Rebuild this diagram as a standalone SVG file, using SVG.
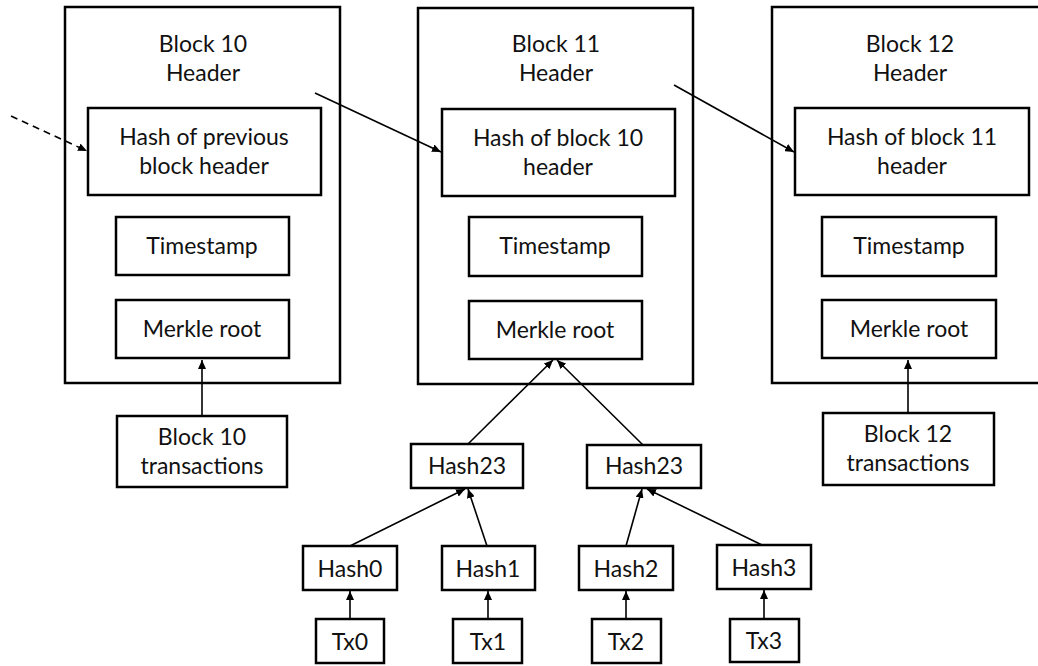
<svg xmlns="http://www.w3.org/2000/svg" width="1038" height="666" viewBox="0 0 1038 666">
<style>
.box{fill:#fff;stroke:#000;stroke-width:2.5}
.t{font-family:Lato,"Open Sans","Liberation Sans",sans-serif;font-size:23px;fill:#111;text-anchor:middle}
.c{fill:none;stroke:#000;stroke-width:1.6}
.d{fill:none;stroke:#000;stroke-width:1.6;stroke-dasharray:7 5}
</style>
<defs>
<marker id="ah" markerUnits="userSpaceOnUse" markerWidth="10" markerHeight="8" refX="9" refY="4" orient="auto">
<path d="M0,0 L9,4 L0,8 z" fill="#000"/>
</marker>
</defs>
<rect width="1038" height="666" fill="#fff"/>
<g id="block10">
<rect class="box" x="65" y="7" width="275" height="376"/>
<text class="t" x="203" y="52">Block 10</text>
<text class="t" x="203" y="81">Header</text>
<g id="b10-hash"><rect class="box" x="88" y="108" width="233" height="87"/>
<text class="t" x="204" y="145">Hash of previous</text>
<text class="t" x="204" y="174">block header</text></g>
<g id="b10-ts"><rect class="box" x="116" y="217" width="173" height="58"/>
<text class="t" x="202" y="254">Timestamp</text></g>
<g id="b10-mr"><rect class="box" x="116" y="300" width="173" height="58"/>
<text class="t" x="202" y="337">Merkle root</text></g>
</g>
<g id="block11">
<rect class="box" x="418" y="8" width="275" height="376"/>
<text class="t" x="556" y="52">Block 11</text>
<text class="t" x="556" y="81">Header</text>
<g id="b11-hash"><rect class="box" x="442" y="109" width="233" height="87"/>
<text class="t" x="558" y="146">Hash of block 10</text>
<text class="t" x="558" y="175">header</text></g>
<g id="b11-ts"><rect class="box" x="469" y="217" width="173" height="59"/>
<text class="t" x="555" y="254">Timestamp</text></g>
<g id="b11-mr"><rect class="box" x="469" y="301" width="173" height="58"/>
<text class="t" x="555" y="338">Merkle root</text></g>
</g>
<g id="block12">
<rect class="box" x="772" y="7" width="276" height="376"/>
<text class="t" x="910" y="52">Block 12</text>
<text class="t" x="910" y="81">Header</text>
<g id="b12-hash"><rect class="box" x="795" y="108" width="234" height="87"/>
<text class="t" x="912" y="145">Hash of block 11</text>
<text class="t" x="912" y="174">header</text></g>
<g id="b12-ts"><rect class="box" x="822" y="217" width="174" height="59"/>
<text class="t" x="909" y="254">Timestamp</text></g>
<g id="b12-mr"><rect class="box" x="822" y="300" width="174" height="58"/>
<text class="t" x="909" y="337">Merkle root</text></g>
</g>
<g id="b10-tx"><rect class="box" x="117" y="416" width="170" height="71"/>
<text class="t" x="202" y="445">Block 10</text>
<text class="t" x="202" y="474">transactions</text></g>
<g id="b12-tx"><rect class="box" x="823" y="413" width="171" height="72"/>
<text class="t" x="908" y="442">Block 12</text>
<text class="t" x="908" y="471">transactions</text></g>
<g id="hash23a"><rect class="box" x="411" y="444" width="112" height="44"/><text class="t" x="467" y="474">Hash23</text></g>
<g id="hash23b"><rect class="box" x="587" y="445" width="114" height="43"/><text class="t" x="644" y="474">Hash23</text></g>
<g id="hash0"><rect class="box" x="303" y="546" width="94" height="44"/><text class="t" x="350" y="577">Hash0</text></g>
<g id="hash1"><rect class="box" x="442" y="546" width="93" height="44"/><text class="t" x="488" y="577">Hash1</text></g>
<g id="hash2"><rect class="box" x="579" y="546" width="94" height="44"/><text class="t" x="626" y="577">Hash2</text></g>
<g id="hash3"><rect class="box" x="717" y="545" width="94" height="44"/><text class="t" x="764" y="576">Hash3</text></g>
<g id="tx0"><rect class="box" x="316" y="619" width="68" height="44"/><text class="t" x="350" y="650">Tx0</text></g>
<g id="tx1"><rect class="box" x="453" y="619" width="69" height="44"/><text class="t" x="488" y="650">Tx1</text></g>
<g id="tx2"><rect class="box" x="592" y="619" width="69" height="44"/><text class="t" x="626" y="650">Tx2</text></g>
<g id="tx3"><rect class="box" x="730" y="619" width="69" height="43"/><text class="t" x="764" y="649">Tx3</text></g>
<g id="connectors">
<line class="d" x1="11" y1="116" x2="87" y2="151" marker-end="url(#ah)"/>
<line class="c" x1="315" y1="93" x2="441" y2="152" marker-end="url(#ah)"/>
<line class="c" x1="674" y1="85" x2="794" y2="152" marker-end="url(#ah)"/>
<line class="c" x1="202" y1="416" x2="202" y2="360" marker-end="url(#ah)"/>
<line class="c" x1="908" y1="413" x2="908" y2="360" marker-end="url(#ah)"/>
<line class="c" x1="468" y1="444" x2="553" y2="360" marker-end="url(#ah)"/>
<line class="c" x1="643" y1="445" x2="557" y2="360" marker-end="url(#ah)"/>
<line class="c" x1="350" y1="546" x2="465" y2="489" marker-end="url(#ah)"/>
<line class="c" x1="487" y1="546" x2="468" y2="489" marker-end="url(#ah)"/>
<line class="c" x1="626" y1="546" x2="642" y2="489" marker-end="url(#ah)"/>
<line class="c" x1="762" y1="545" x2="647" y2="489" marker-end="url(#ah)"/>
<line class="c" x1="350" y1="619" x2="350" y2="591" marker-end="url(#ah)"/>
<line class="c" x1="488" y1="619" x2="488" y2="591" marker-end="url(#ah)"/>
<line class="c" x1="626" y1="619" x2="626" y2="591" marker-end="url(#ah)"/>
<line class="c" x1="764" y1="619" x2="764" y2="590" marker-end="url(#ah)"/>
</g>
</svg>
